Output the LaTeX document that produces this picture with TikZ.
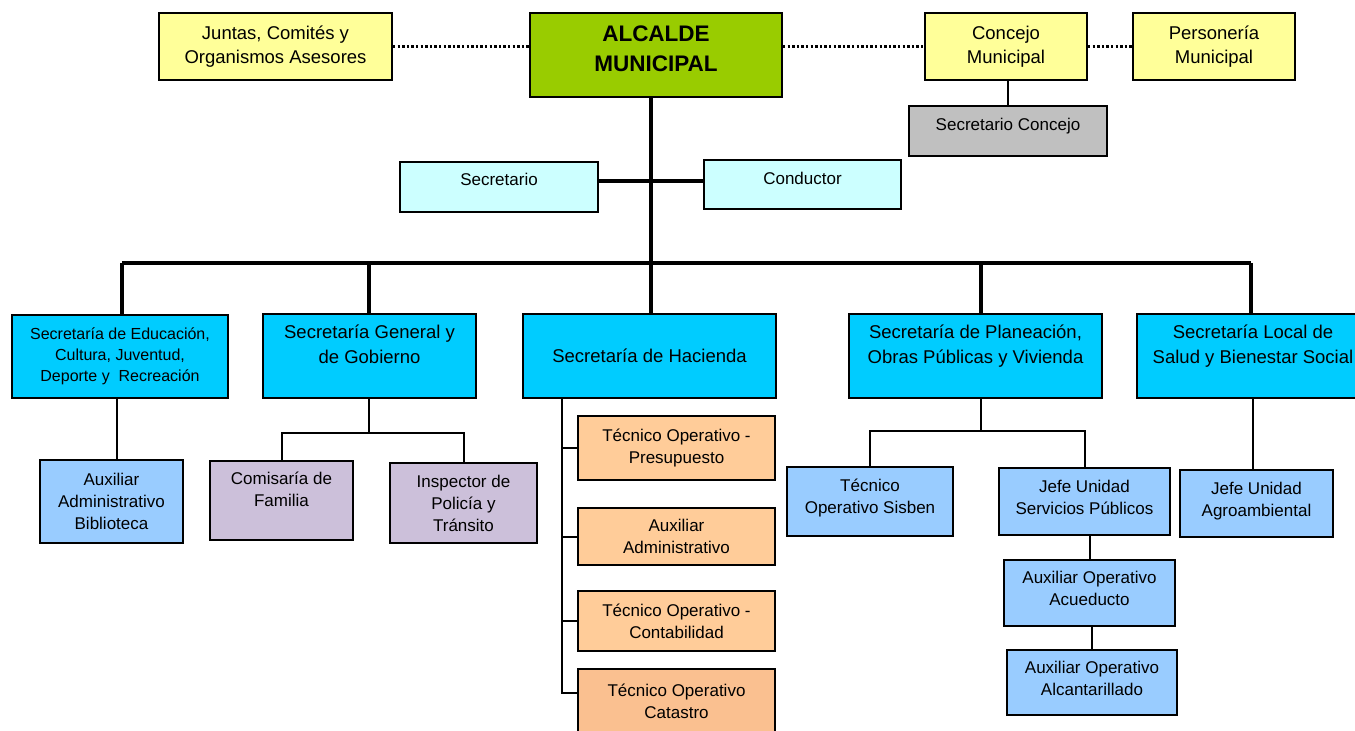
\documentclass[tikz,border=0pt]{standalone}
\usepackage{fontspec}
\setmainfont{Liberation Sans}
\usetikzlibrary{positioning}

\definecolor{cAsesor}{HTML}{FFFF99}
\definecolor{cAlcalde}{HTML}{99CC00}
\definecolor{cGris}{HTML}{C0C0C0}
\definecolor{cApoyo}{HTML}{CCFFFF}
\definecolor{cSecretaria}{HTML}{00CCFF}
\definecolor{cUnidad}{HTML}{99CCFF}
\definecolor{cGobierno}{HTML}{CCC0DA}
\definecolor{cHacienda}{HTML}{FFCC99}
\definecolor{cCatastro}{HTML}{FAC090}

\begin{document}
\begin{tikzpicture}[
    x=1pt, y=-1pt,
    box/.style={rectangle, draw, line width=2pt, inner sep=2pt, align=center,
                font=\fontsize{17}{22}\selectfont},
    wh/.style 2 args={minimum width=#1, minimum height=#2},
    asesor/.style={box, fill=cAsesor, font=\fontsize{18.5}{24}\selectfont},
    secretaria/.style={box, fill=cSecretaria, font=\fontsize{18.5}{25}\selectfont},
    trunk/.style={line width=4.5pt},
    link/.style={line width=2pt},
    dots/.style={line width=3pt, dash pattern=on 2.4pt off 2.2pt}
]
    \useasboundingbox (0,0) rectangle (1355,731);
    \clip (0,0) rectangle (1355,731);

    % Top row
    \node [asesor, wh={233pt}{67pt}] (juntas) at (275.5,46.5) {Juntas, Comités y\\Organismos Asesores};
    \node [box, fill=cAlcalde, wh={252pt}{84pt}, text depth=12pt, font=\fontsize{22.5}{30}\selectfont\bfseries] (alcalde) at (656,55) {ALCALDE\\MUNICIPAL};
    \node [asesor, wh={162pt}{67pt}] (concejo) at (1006,46.5) {Concejo\\Municipal};
    \node [asesor, wh={162pt}{67pt}] (personeria) at (1214,46.5) {Personería\\Municipal};
    \node [box, fill=cGris, wh={198pt}{50pt}, text depth=14pt] (secconcejo) at (1008,131) {Secretario Concejo};

    % Direct support of the mayor
    \node [box, fill=cApoyo, wh={198pt}{50pt}, text depth=15pt] (secretario) at (499,187) {Secretario};
    \node [box, fill=cApoyo, wh={197pt}{49pt}, text depth=13pt] (conductor) at (802.5,184.5) {Conductor};

    % Secretariats
    \node [box, fill=cSecretaria, wh={216pt}{83pt}, font=\fontsize{16}{21}\selectfont] (educacion) at (120,356.5) {Secretaría de Educación,\\Cultura, Juventud,\\Deporte y\ \ Recreación};
    \node [secretaria, wh={213pt}{84pt}, text depth=24pt] (general) at (369.5,356) {Secretaría General y\\de Gobierno};
    \node [secretaria, wh={253pt}{84pt}] (hacienda) at (649.5,356) {Secretaría de Hacienda};
    \node [secretaria, wh={253pt}{84pt}, text depth=24pt] (planeacion) at (975.5,356) {Secretaría de Planeación,\\Obras Públicas y Vivienda};
    \node [secretaria, wh={232pt}{84pt}, text depth=24pt] (salud) at (1253,356) {Secretaría Local de\\Salud y Bienestar Social};

    % Units under each secretariat
    \node [box, fill=cUnidad, wh={143pt}{83pt}] (biblioteca) at (111.5,501.5) {Auxiliar\\Administrativo\\Biblioteca};
    \node [box, fill=cGobierno, wh={143pt}{79pt}, text depth=22pt] (comisaria) at (281.5,500.5) {Comisaría de\\Familia};
    \node [box, fill=cGobierno, wh={147pt}{80pt}] (inspector) at (463.5,503) {Inspector de\\Policía y\\Tránsito};
    \node [box, fill=cHacienda, wh={197pt}{64pt}] (presupuesto) at (676.5,448) {Técnico Operativo -\\Presupuesto};
    \node [box, fill=cHacienda, wh={197pt}{57pt}] (auxadmin) at (676.5,536.5) {Auxiliar\\Administrativo};
    \node [box, fill=cHacienda, wh={197pt}{60pt}] (contabilidad) at (676.5,621) {Técnico Operativo -\\Contabilidad};
    \node [box, fill=cCatastro, wh={197pt}{64pt}] (catastro) at (676.5,701) {Técnico Operativo\\Catastro};
    \node [box, fill=cUnidad, wh={166pt}{69pt}, text depth=10pt] (sisben) at (870,501.5) {Técnico\\Operativo Sisben};
    \node [box, fill=cUnidad, wh={171pt}{67pt}, text depth=9pt] (servicios) at (1084.5,501.5) {Jefe Unidad\\Servicios Públicos};
    \node [box, fill=cUnidad, wh={153pt}{67pt}, text depth=9pt] (agro) at (1256.5,503.5) {Jefe Unidad\\Agroambiental};
    \node [box, fill=cUnidad, wh={171pt}{66pt}, text depth=9pt] (acueducto) at (1089.5,593) {Auxiliar Operativo\\Acueducto};
    \node [box, fill=cUnidad, wh={170pt}{65pt}, text depth=9pt] (alcantarillado) at (1092,682.5) {Auxiliar Operativo\\Alcantarillado};

    % Junction points
    \coordinate (mid) at (651,181);
    \coordinate (bus) at (651,263);
    \coordinate (busL) at (122,263);
    \coordinate (busR) at (1251,263);
    \coordinate (gsplit) at (369,433);
    \coordinate (psplit) at (981,431);
    \coordinate (hbar) at (562,398);

    % Advisory links
    \draw [dots] (juntas.east) -- (juntas.east -| alcalde.west);
    \draw [dots] (concejo.west -| alcalde.east) -- (concejo.west);
    \draw [dots] (concejo.east) -- (personeria.west);
    \draw [link] (concejo.south -| secconcejo.north) -- (secconcejo.north);

    % Main trunk and bus
    \draw [trunk] (alcalde.south -| bus) -- (bus);
    \draw [trunk] (secretario.east |- mid) -- (conductor.west |- mid);
    \draw [trunk] (busL) -- (busR);
    \draw [trunk] (busL) -- (busL |- educacion.north);
    \draw [trunk] (gsplit |- bus) -- (gsplit |- general.north);
    \draw [trunk] (bus) -- (bus |- hacienda.north);
    \draw [trunk] (psplit |- bus) -- (psplit |- planeacion.north);
    \draw [trunk] (busR) -- (busR |- salud.north);

    % Lower links
    \draw [link] ([xshift=-3pt]educacion.south) -- ([xshift=-3pt]educacion.south |- biblioteca.north);
    \draw [link] (general.south -| gsplit) -- (gsplit);
    \draw [link] (comisaria.north) |- (gsplit) -| (inspector.north);
    \draw [link] (hacienda.south -| hbar) -- (hbar |- catastro.north) -- ++(0,24);
    \foreach \n in {presupuesto, auxadmin, contabilidad}
        \draw [link] ([xshift=-1pt]hbar |- \n.west) -- (\n.west);
    \draw [link] ([xshift=-1pt,yshift=8pt]hbar |- catastro.west) -- ([yshift=8pt]catastro.west);
    \draw [link] (planeacion.south -| psplit) -- (psplit);
    \draw [link] (sisben.north) |- (psplit) -| (servicios.north);
    \draw [link] (salud.south) -- (salud.south |- agro.north);
    \draw [link] (servicios.south -| acueducto.north) -- (acueducto.north);
    \draw [link] (acueducto.south -| alcantarillado.north) -- (alcantarillado.north);
\end{tikzpicture}
\end{document}
